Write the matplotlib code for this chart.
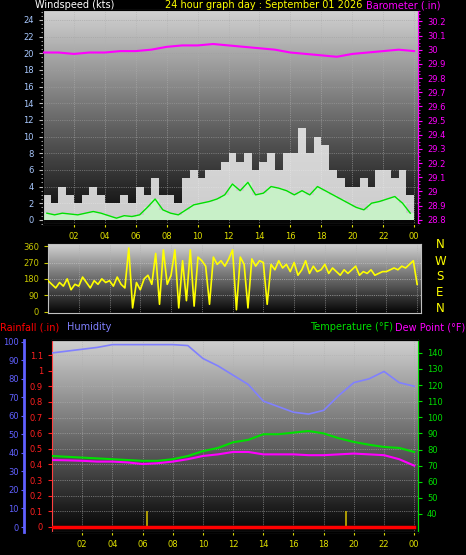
import numpy as np
import matplotlib
matplotlib.use("Agg")
import matplotlib.pyplot as plt
from matplotlib.ticker import MultipleLocator

plt.rcParams['font.family'] = ['DejaVu Sans']

# half-hourly wind (kts)
wind_t = np.arange(48) * 0.5 + 0.25
gust = [3, 2, 4, 3, 2, 3, 4, 3, 2, 2, 3, 2, 4, 3, 5, 3, 3, 2, 5, 6, 5, 6, 6, 7,
        8, 7, 8, 6, 7, 8, 6, 8, 8, 11, 8, 10, 9, 6, 5, 4, 4, 5, 4, 6, 6, 5, 6, 3]
wind_avg = [0.8, 0.6, 0.8, 0.7, 0.6, 0.8, 1.0, 0.8, 0.5, 0.2, 0.5, 0.4, 0.6, 1.5, 2.5, 1.2,
            0.8, 0.6, 1.2, 1.8, 2.0, 2.2, 2.5, 3.0, 4.3, 3.5, 4.5, 3.0, 3.2, 4.0, 3.8, 3.5,
            3.0, 3.5, 3.0, 4.0, 3.5, 3.0, 2.5, 2.0, 1.5, 1.2, 2.0, 2.2, 2.5, 2.8, 2.0, 0.8]

hours = np.arange(25)
baro = [29.98, 29.98, 29.97, 29.98, 29.98, 29.99, 29.99, 30.0, 30.02, 30.03, 30.03, 30.04,
        30.03, 30.02, 30.01, 30.0, 29.98, 29.97, 29.96, 29.95, 29.97, 29.98, 29.99, 30.0, 29.99]

# quarter-hourly wind direction (deg)
dir_t = np.arange(97) * 0.25
wind_dir = [170, 150, 130, 160, 140, 180, 120, 150,
            140, 190, 160, 130, 170, 150, 180, 160,
            170, 140, 190, 150, 130, 350, 20, 160,
            120, 180, 200, 150, 320, 40, 340, 150,
            200, 340, 20, 280, 60, 340, 30, 300,
            280, 250, 40, 300, 260, 280, 250, 290,
            340, 10, 300, 260, 20, 290, 250, 280,
            270, 40, 260, 230, 280, 240, 260, 220,
            270, 200, 230, 280, 210, 250, 220, 230,
            260, 210, 240, 220, 200, 230, 210, 230,
            250, 200, 220, 210, 230, 200, 210, 220,
            220, 230, 240, 230, 250, 240, 260, 280,
            150]

temp = [76, 75.5, 75, 74.5, 74, 73.5, 73, 73, 74, 76, 79, 81, 84.5, 86, 89.5, 89.5, 90.5,
        91.5, 90, 87, 84.7, 83, 81.6, 81, 78.5]
dew = [73.5, 73.3, 73, 72.5, 72.5, 72, 71, 71.5, 72.5, 74, 76, 77, 78.5, 78.5, 77, 77, 77,
       76.5, 76.5, 77, 77.5, 77, 76.5, 74, 70]
humidity = [94, 95, 96, 97, 98.5, 98.5, 98.5, 98.5, 98.5, 98, 91, 87, 82, 77, 68, 65, 62,
            61, 63, 71, 78, 80, 84, 78, 76]
rain = [0] * 25
rain_marks = [6.3, 19.5]
rain_mark_h = [0.1, 0.1]

xticks = list(range(2, 25, 2))
xlabels = ["%02d" % (h % 24) for h in xticks]

W, H = 466, 555
fig = plt.figure(figsize=(W / 100, H / 100), dpi=100, facecolor="black")
FS = 6
HS = 7


def box(l, t, r, b):
    return [l / W, 1 - b / H, (r - l) / W, (b - t) / H]


def style(ax):
    ax.set_facecolor("black")
    grad = np.linspace(0.82, 0.02, 200).reshape(-1, 1)
    ax.imshow(grad, cmap="gray", vmin=0, vmax=1, aspect="auto", extent=[0, 1, 0, 1],
              transform=ax.transAxes, zorder=0)
    ax.set_xlim(0, 24.25)
    ax.set_xticks(xticks)
    ax.set_xticklabels(xlabels, color="#e0e000", fontsize=FS)
    ax.tick_params(axis="x", colors="#e0e000", length=2, labelsize=FS)
    for s in ax.spines.values():
        s.set_color("#c0c0c0")
    for x in xticks:
        ax.axvline(x, color="#b0b0b0", lw=0.5, ls=":", zorder=1)


# top: wind + barometer
ax1 = fig.add_axes(box(43, 10, 418, 224))
style(ax1)
ax1.set_ylim(-0.5, 25.2)
ax1.bar(wind_t, gust, width=0.5, color="#f0f0f0", alpha=0.85, zorder=2)
ax1.bar(wind_t, wind_avg, width=0.5, color="#c8f0c8", zorder=3)
ax1.plot(wind_t, wind_avg, color="#00e000", lw=1, zorder=4)
ax1.set_yticks(range(0, 25, 2))
ax1.yaxis.set_minor_locator(MultipleLocator(0.5))
ax1.tick_params(axis="y", colors="#c0c0c0", labelcolor="#a8c8ff", labelsize=FS, length=3)
ax1.tick_params(axis="y", which="minor", length=1.5, colors="#c0c0c0")
for y in range(2, 25, 2):
    ax1.axhline(y, color="#a0a0a0", lw=0.5, ls=":", zorder=1)
ax1b = ax1.twinx()
ax1b.set_ylim(28.77, 30.28)
ax1b.plot(hours, baro, color="#ff00ff", lw=1.5, zorder=5)
ax1b.set_yticks(np.round(np.arange(28.8, 30.25, 0.1), 1))
ax1b.set_yticklabels(["%g" % v for v in np.round(np.arange(28.8, 30.25, 0.1), 1)])
ax1b.yaxis.set_minor_locator(MultipleLocator(0.025))
ax1b.tick_params(axis="y", colors="#ff00ff", labelsize=FS, length=3)
ax1b.tick_params(axis="y", which="minor", length=1.5, colors="#ff00ff")
ax1b.spines["right"].set_color("#ff00ff")
fig.text(35 / W, 1 - 5 / H, "Windspeed (kts)", color="white", fontsize=HS, va="center")
fig.text(264 / W, 1 - 5 / H, "24 hour graph day : September 01 2026", color="#ffff00",
         fontsize=HS, va="center", ha="center")
fig.text(441 / W, 1 - 5 / H, "Barometer (.in)", color="#ff00ff", fontsize=HS, va="center",
         ha="right")

# middle: wind direction
ax2 = fig.add_axes(box(48, 244, 421, 313))
style(ax2)
ax2.set_xticklabels([])
ax2.tick_params(axis="x", length=0)
ax2.set_ylim(-8, 372)
ax2.plot(dir_t, wind_dir, color="#ffff00", lw=1.2, zorder=3)
ax2.set_yticks([0, 90, 180, 270, 360])
ax2.tick_params(axis="y", colors="#c8c800", labelsize=FS, length=3)
for y in [90, 180, 270]:
    ax2.axhline(y, color="#d0d0d0", lw=0.5, ls=":", zorder=1)
for i, c in enumerate("NWSEN"):
    fig.text(440 / W, 1 - (245 + i * 16) / H, c, color="#ffff00", fontsize=8.5,
             ha="center", va="center")

# bottom: rain, humidity, temperature, dew point
ax3 = fig.add_axes(box(52, 340, 418, 532))
style(ax3)
ax3.set_ylim(-0.032, 1.196)
ax3.plot(hours, rain, color="#ff0000", lw=2.5, zorder=6)
ax3.vlines(rain_marks, 0, rain_mark_h, color="#c8b400", lw=1.2, zorder=5)
ax3.set_yticks(np.round(np.arange(0, 1.15, 0.1), 1))
ax3.set_yticklabels(["%g" % v for v in np.round(np.arange(0, 1.15, 0.1), 1)])
ax3.tick_params(axis="y", colors="#ff2020", labelsize=FS, length=3)
ax3.spines["left"].set_color("#ff4040")
for y in np.arange(0.1, 1.15, 0.1):
    ax3.axhline(y, color="#b0b0b0", lw=0.5, ls=":", zorder=1)

ax3h = ax3.twinx()
ax3h.set_ylim(-2.7, 101)
ax3h.plot(hours, humidity, color="#8080ff", lw=1.2, zorder=4)
ax3h.spines["left"].set_visible(True)
ax3h.spines["left"].set_position(("outward", 20))
ax3h.spines["left"].set_color("#6060ff")
ax3h.spines["left"].set_linewidth(2)
ax3h.spines["right"].set_visible(False)
ax3h.yaxis.set_ticks_position("left")
ax3h.yaxis.set_label_position("left")
ax3h.set_yticks(range(0, 101, 10))
ax3h.tick_params(axis="y", colors="#6060ff", labelsize=FS, length=2, pad=2)

ax3t = ax3.twinx()
ax3t.set_ylim(28.8, 148)
ax3t.plot(hours, temp, color="#00e000", lw=1.5, zorder=4)
ax3t.plot(hours, dew, color="#ff00ff", lw=1.5, zorder=4)
ax3t.set_yticks(range(40, 141, 10))
ax3t.tick_params(axis="y", colors="#00e000", labelsize=FS, length=3)
ax3t.spines["right"].set_color("#00e000")
ax3t.spines["left"].set_visible(False)

fig.text(0, 1 - 327 / H, "Rainfall (.in)", color="#ff0000", fontsize=HS, va="center")
fig.text(67 / W, 1 - 327 / H, "Humidity", color="#8080ff", fontsize=HS, va="center")
fig.text(393 / W, 1 - 327 / H, "Temperature (°F)", color="#00e000", fontsize=HS,
         va="center", ha="right")
fig.text(465 / W, 1 - 327 / H, "Dew Point (°F)", color="#ff00ff", fontsize=HS,
         va="center", ha="right")

fig.savefig("out.png", dpi=100, facecolor="black")
